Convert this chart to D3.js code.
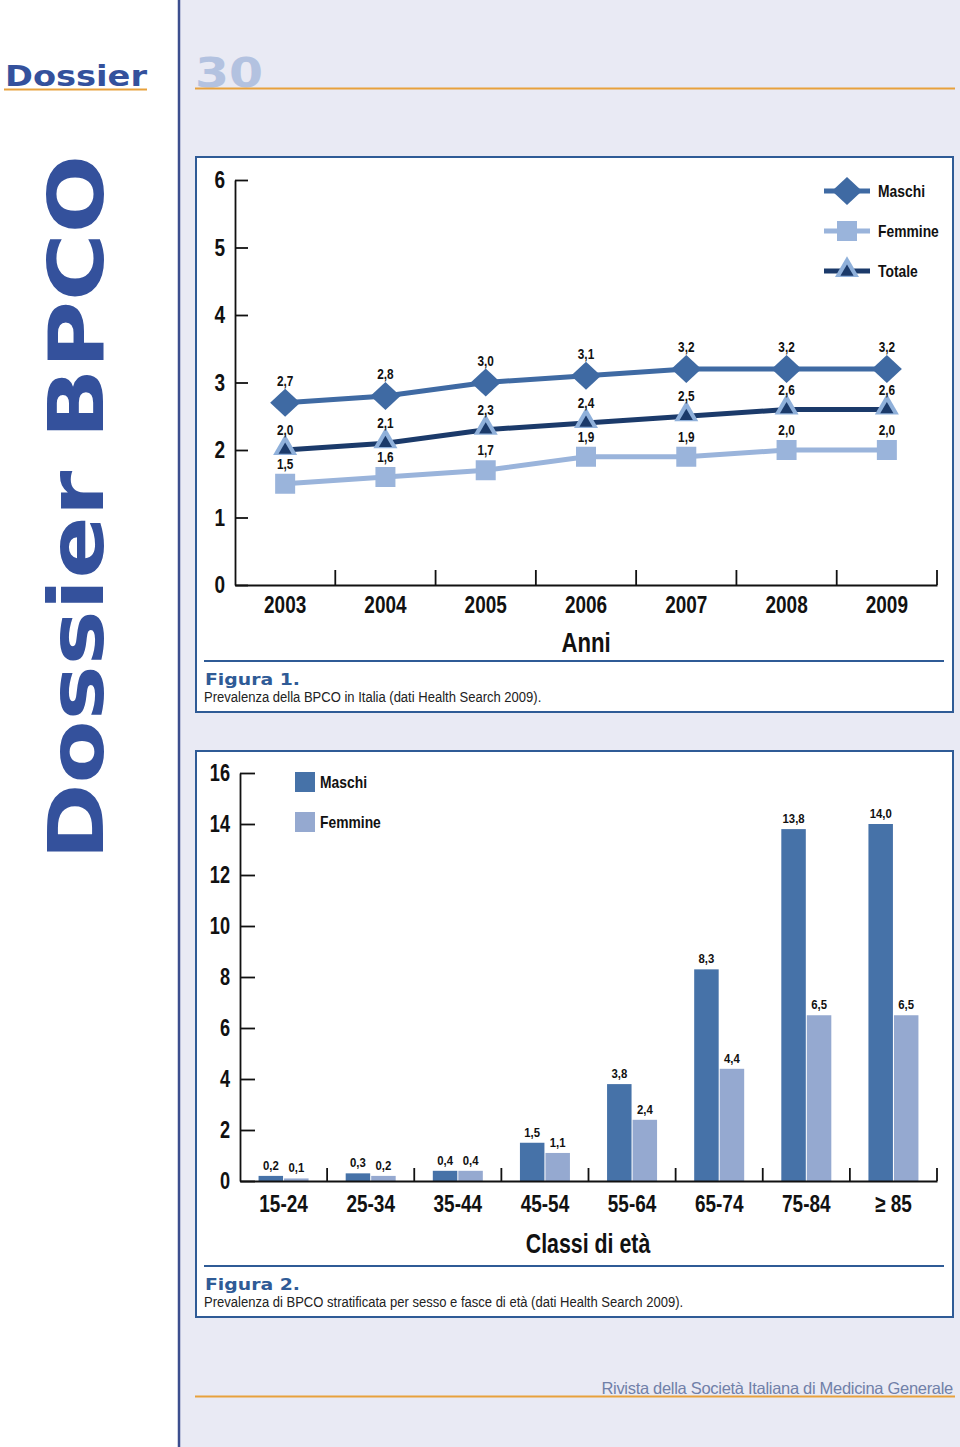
<!DOCTYPE html>
<html><head><meta charset="utf-8">
<script src="https://cdn.jsdelivr.net/npm/d3@7"></script>
<style>
body{margin:0;padding:0;background:#fff;}
svg{display:block;}
</style></head>
<body>
<script>
// ---------- DATA ----------
const years = ["2003","2004","2005","2006","2007","2008","2009"];
const maschiLine = [2.7, 2.8, 3.0, 3.1, 3.2, 3.2, 3.2];
const femmineLine = [1.5, 1.6, 1.7, 1.9, 1.9, 2.0, 2.0];
const totaleLine = [2.0, 2.1, 2.3, 2.4, 2.5, 2.6, 2.6];
const lineTicks = [0,1,2,3,4,5,6];

const ageClasses = ["15-24","25-34","35-44","45-54","55-64","65-74","75-84","\u2265 85"];
const maschiBar = [0.2, 0.3, 0.4, 1.5, 3.8, 8.3, 13.8, 14.0];
const femmineBar = [0.1, 0.2, 0.4, 1.1, 2.4, 4.4, 6.5, 6.5];
const barTicks = [0,2,4,6,8,10,12,14,16];

// ---------- STYLE ----------
const C = {
  bg: "#e9eaf4", frame:"#2f5b96", vline:"#3c4e8e", orange:"#e8a13c",
  dossier:"#34519c", thirty:"#b3c2e0",
  maschi:"#3f6aa3", femmine:"#9ab4db", totale:"#1b3a6a", triFill:"#8fb0da",
  barM:"#4672a8", barF:"#95a9d0"
};
const NARROW = "'Liberation Sans',Arial,sans-serif";
const WIDE = "'DejaVu Sans',Verdana,sans-serif";
const fmt = v => d3.format(".1f")(v).replace(".", ",");

const svg = d3.select("body").append("svg").attr("width",960).attr("height",1447);

// background
svg.append("rect").attr("width",960).attr("height",1447).attr("fill","#fff");
svg.append("rect").attr("x",180).attr("width",780).attr("height",1447).attr("fill",C.bg);
svg.append("line").attr("x1",179).attr("x2",179).attr("y1",0).attr("y2",1447)
  .attr("stroke",C.vline).attr("stroke-width",2.5);

// header
svg.append("text").attr("x",5).attr("y",86).attr("textLength",142).attr("lengthAdjust","spacingAndGlyphs")
  .attr("font-family",WIDE).attr("font-weight","bold").attr("font-size",28).attr("fill",C.dossier).text("Dossier");
svg.append("line").attr("x1",4).attr("x2",147).attr("y1",89.5).attr("y2",89.5).attr("stroke",C.orange).attr("stroke-width",2);
svg.append("text").attr("x",195).attr("y",87).attr("textLength",68).attr("lengthAdjust","spacingAndGlyphs")
  .attr("font-family",WIDE).attr("font-weight","bold").attr("font-size",40).attr("fill",C.thirty).text("30");
svg.append("line").attr("x1",195).attr("x2",955).attr("y1",88.5).attr("y2",88.5).attr("stroke",C.orange).attr("stroke-width",2);

// vertical title
svg.append("text").attr("transform","translate(103,860) rotate(-90)")
  .attr("textLength",705).attr("lengthAdjust","spacingAndGlyphs")
  .attr("font-family",WIDE).attr("font-weight","bold").attr("font-size",76).attr("fill",C.dossier)
  .text("Dossier BPCO");

// footer
svg.append("line").attr("x1",195).attr("x2",955).attr("y1",1396.5).attr("y2",1396.5).attr("stroke",C.orange).attr("stroke-width",2);
svg.append("text").attr("x",953).attr("y",1394).attr("text-anchor","end")
  .attr("font-family",NARROW).attr("font-size",16.5).attr("letter-spacing",-0.3).attr("fill","#7080a8")
  .text("Rivista della Società Italiana di Medicina Generale");

// ---------- helpers ----------
function panel(y0,y1,sepY,title,caption){
  svg.append("rect").attr("x",196).attr("y",y0).attr("width",757).attr("height",y1-y0)
    .attr("fill","#fff").attr("stroke",C.frame).attr("stroke-width",2);
  svg.append("line").attr("x1",204).attr("x2",944).attr("y1",sepY).attr("y2",sepY).attr("stroke",C.frame).attr("stroke-width",2);
  svg.append("text").attr("x",205).attr("y",sepY+24).attr("textLength",95).attr("lengthAdjust","spacingAndGlyphs")
    .attr("font-family",WIDE).attr("font-weight","bold").attr("font-size",16).attr("fill",C.frame).text(title);
  svg.append("text").attr("x",204).attr("y",sepY+41).attr("class","n")
    .attr("font-family",NARROW).attr("font-size",15.5).attr("fill","#222").text(caption);
}
function diamondPath(hw,hh){
  return `M0,${-hh}L${hw},0L0,${hh}L${-hw},0Z`;
}

// ---------- FIGURE 1 ----------
panel(157,712,661,"Figura 1.","Prevalenza della BPCO in Italia (dati Health Search 2009).");

const x1 = d3.scaleBand().domain(years).range([235,937]);
const y1 = d3.scaleLinear().domain([0,6]).range([585,180]);
const g1 = svg.append("g");

const yAx1 = g1.append("g").attr("transform","translate(235,0)")
  .call(d3.axisLeft(y1).tickValues(lineTicks).tickSizeInner(-13).tickSizeOuter(0).tickPadding(10).tickFormat(d3.format("d")));
yAx1.selectAll("path,line").attr("stroke","#111").attr("stroke-width",1.8);
yAx1.selectAll("text").attr("class","m").attr("font-family",NARROW).attr("font-weight","bold").attr("font-size",24).attr("fill","#111");

const xAx1 = g1.append("g").attr("transform","translate(0,585)")
  .call(d3.axisBottom(x1).tickSize(0).tickPadding(11));
xAx1.select("path").attr("stroke","#111").attr("stroke-width",1.8);
xAx1.selectAll("text").attr("class","m").attr("font-family",NARROW).attr("font-weight","bold").attr("font-size",24).attr("fill","#111");
g1.selectAll(".xt1").data(years).enter().append("line")
  .attr("x1",d=>x1(d)+x1.bandwidth()).attr("x2",d=>x1(d)+x1.bandwidth())
  .attr("y1",585).attr("y2",570).attr("stroke","#111").attr("stroke-width",1.8);
g1.append("text").attr("x",586).attr("y",652).attr("text-anchor","middle").attr("class","m")
  .attr("font-family",NARROW).attr("font-weight","bold").attr("font-size",28).attr("fill","#111").text("Anni");

const cx = d => x1(d)+x1.bandwidth()/2;
const series = [
  {name:"Maschi", vals:maschiLine, color:C.maschi},
  {name:"Totale", vals:totaleLine, color:C.totale},
  {name:"Femmine", vals:femmineLine, color:C.femmine}
];
const lineGen = d3.line().x((d,i)=>cx(years[i])).y(d=>y1(d));
series.forEach(s=>{
  g1.append("path").attr("d",lineGen(s.vals)).attr("fill","none").attr("stroke",s.color).attr("stroke-width",5);
});

function marker(g,name,x,y){
  if(name==="Maschi"){
    g.append("path").attr("d",diamondPath(15,14)).attr("transform",`translate(${x},${y})`).attr("fill",C.maschi);
  } else if(name==="Femmine"){
    g.append("rect").attr("x",x-10).attr("y",y-10).attr("width",20).attr("height",20).attr("fill",C.femmine);
  } else {
    g.append("path").attr("d",d3.symbol(d3.symbolTriangle,250)()).attr("transform",`translate(${x},${y-2})`).attr("fill",C.triFill);
    g.append("path").attr("d",d3.symbol(d3.symbolTriangle,75)()).attr("transform",`translate(${x},${y})`).attr("fill",C.totale);
  }
}
series.forEach(s=>{
  s.vals.forEach((v,i)=>{
    marker(g1,s.name,cx(years[i]),y1(v));
    g1.append("text").attr("x",cx(years[i])).attr("y",y1(v)-(s.name==="Maschi"?17:15)).attr("text-anchor","middle").attr("class","n")
      .attr("font-family",NARROW).attr("font-weight","bold").attr("font-size",14).attr("fill","#111").text(fmt(v));
  });
});

// legend fig 1
const leg1 = [{n:"Maschi",c:C.maschi,y:191},{n:"Femmine",c:C.femmine,y:231},{n:"Totale",c:C.totale,y:271}];
leg1.forEach(l=>{
  g1.append("line").attr("x1",824).attr("x2",870).attr("y1",l.y).attr("y2",l.y).attr("stroke",l.c).attr("stroke-width",5);
  marker(g1,l.n,847,l.y+(l.n==="Totale"?1:0));
  g1.append("text").attr("x",878).attr("y",l.y+6).attr("class","n").attr("font-family",NARROW).attr("font-weight","bold")
    .attr("font-size",16.5).attr("fill","#111").text(l.n);
});

// ---------- FIGURE 2 ----------
panel(751,1317,1266,"Figura 2.","Prevalenza di BPCO stratificata per sesso e fasce di età (dati Health Search 2009).");

const x2 = d3.scaleBand().domain(ageClasses).range([240,937]);
const xs = d3.scaleBand().domain(["M","F"]).range([0,50]).paddingInner(0.04);
const y2 = d3.scaleLinear().domain([0,16]).range([1181,773]);
const g2 = svg.append("g");

const barData = ageClasses.map((a,i)=>({a, M:maschiBar[i], F:femmineBar[i]}));
const gb = g2.selectAll(".grp").data(barData).enter().append("g")
  .attr("transform",d=>`translate(${x2(d.a)+x2.bandwidth()/2-25},0)`);
["M","F"].forEach(k=>{
  gb.append("rect").attr("x",xs(k)).attr("width",xs.bandwidth())
    .attr("y",d=>y2(d[k])).attr("height",d=>y2(0)-y2(d[k]))
    .attr("fill",k==="M"?C.barM:C.barF);
  gb.append("text").attr("x",xs(k)+xs.bandwidth()/2).attr("y",d=>y2(d[k])-6).attr("text-anchor","middle").attr("class","n")
    .attr("font-family",NARROW).attr("font-weight","bold").attr("font-size",13.5).attr("fill","#111")
    .text(d=>fmt(d[k]));
});

const yAx2 = g2.append("g").attr("transform","translate(240,0)")
  .call(d3.axisLeft(y2).tickValues(barTicks).tickSizeInner(-15).tickSizeOuter(0).tickPadding(10).tickFormat(d3.format("d")));
yAx2.selectAll("path,line").attr("stroke","#111").attr("stroke-width",1.8);
yAx2.selectAll("text").attr("class","m").attr("font-family",NARROW).attr("font-weight","bold").attr("font-size",23).attr("fill","#111");

const xAx2 = g2.append("g").attr("transform","translate(0,1181)")
  .call(d3.axisBottom(x2).tickSize(0).tickPadding(14));
xAx2.select("path").attr("stroke","#111").attr("stroke-width",1.8);
xAx2.selectAll("text").attr("class","m").attr("font-family",NARROW).attr("font-weight","bold").attr("font-size",24).attr("fill","#111");
g2.selectAll(".xt2").data(ageClasses).enter().append("line")
  .attr("x1",d=>x2(d)+x2.bandwidth()).attr("x2",d=>x2(d)+x2.bandwidth())
  .attr("y1",1181).attr("y2",1168).attr("stroke","#111").attr("stroke-width",1.8);
g2.append("text").attr("x",588).attr("y",1253).attr("text-anchor","middle").attr("class","m")
  .attr("font-family",NARROW).attr("font-weight","bold").attr("font-size",27).attr("fill","#111").text("Classi di età");

// legend fig 2
[{n:"Maschi",c:C.barM,y:772},{n:"Femmine",c:C.barF,y:812}].forEach(l=>{
  g2.append("rect").attr("x",295).attr("y",l.y).attr("width",20).attr("height",20).attr("fill",l.c);
  g2.append("text").attr("x",320).attr("y",l.y+16).attr("class","n").attr("font-family",NARROW).attr("font-weight","bold")
    .attr("font-size",16.5).attr("fill","#111").text(l.n);
});

// condense texts (Helvetica Condensed look)
function condense(sel,f){
  sel.each(function(){
    const w = this.getComputedTextLength();
    d3.select(this).attr("textLength", (w*f).toFixed(1)).attr("lengthAdjust","spacingAndGlyphs");
  });
}
condense(svg.selectAll("text.n"),0.84);
condense(svg.selectAll("text.m"),0.79);
</script>
</body></html>
